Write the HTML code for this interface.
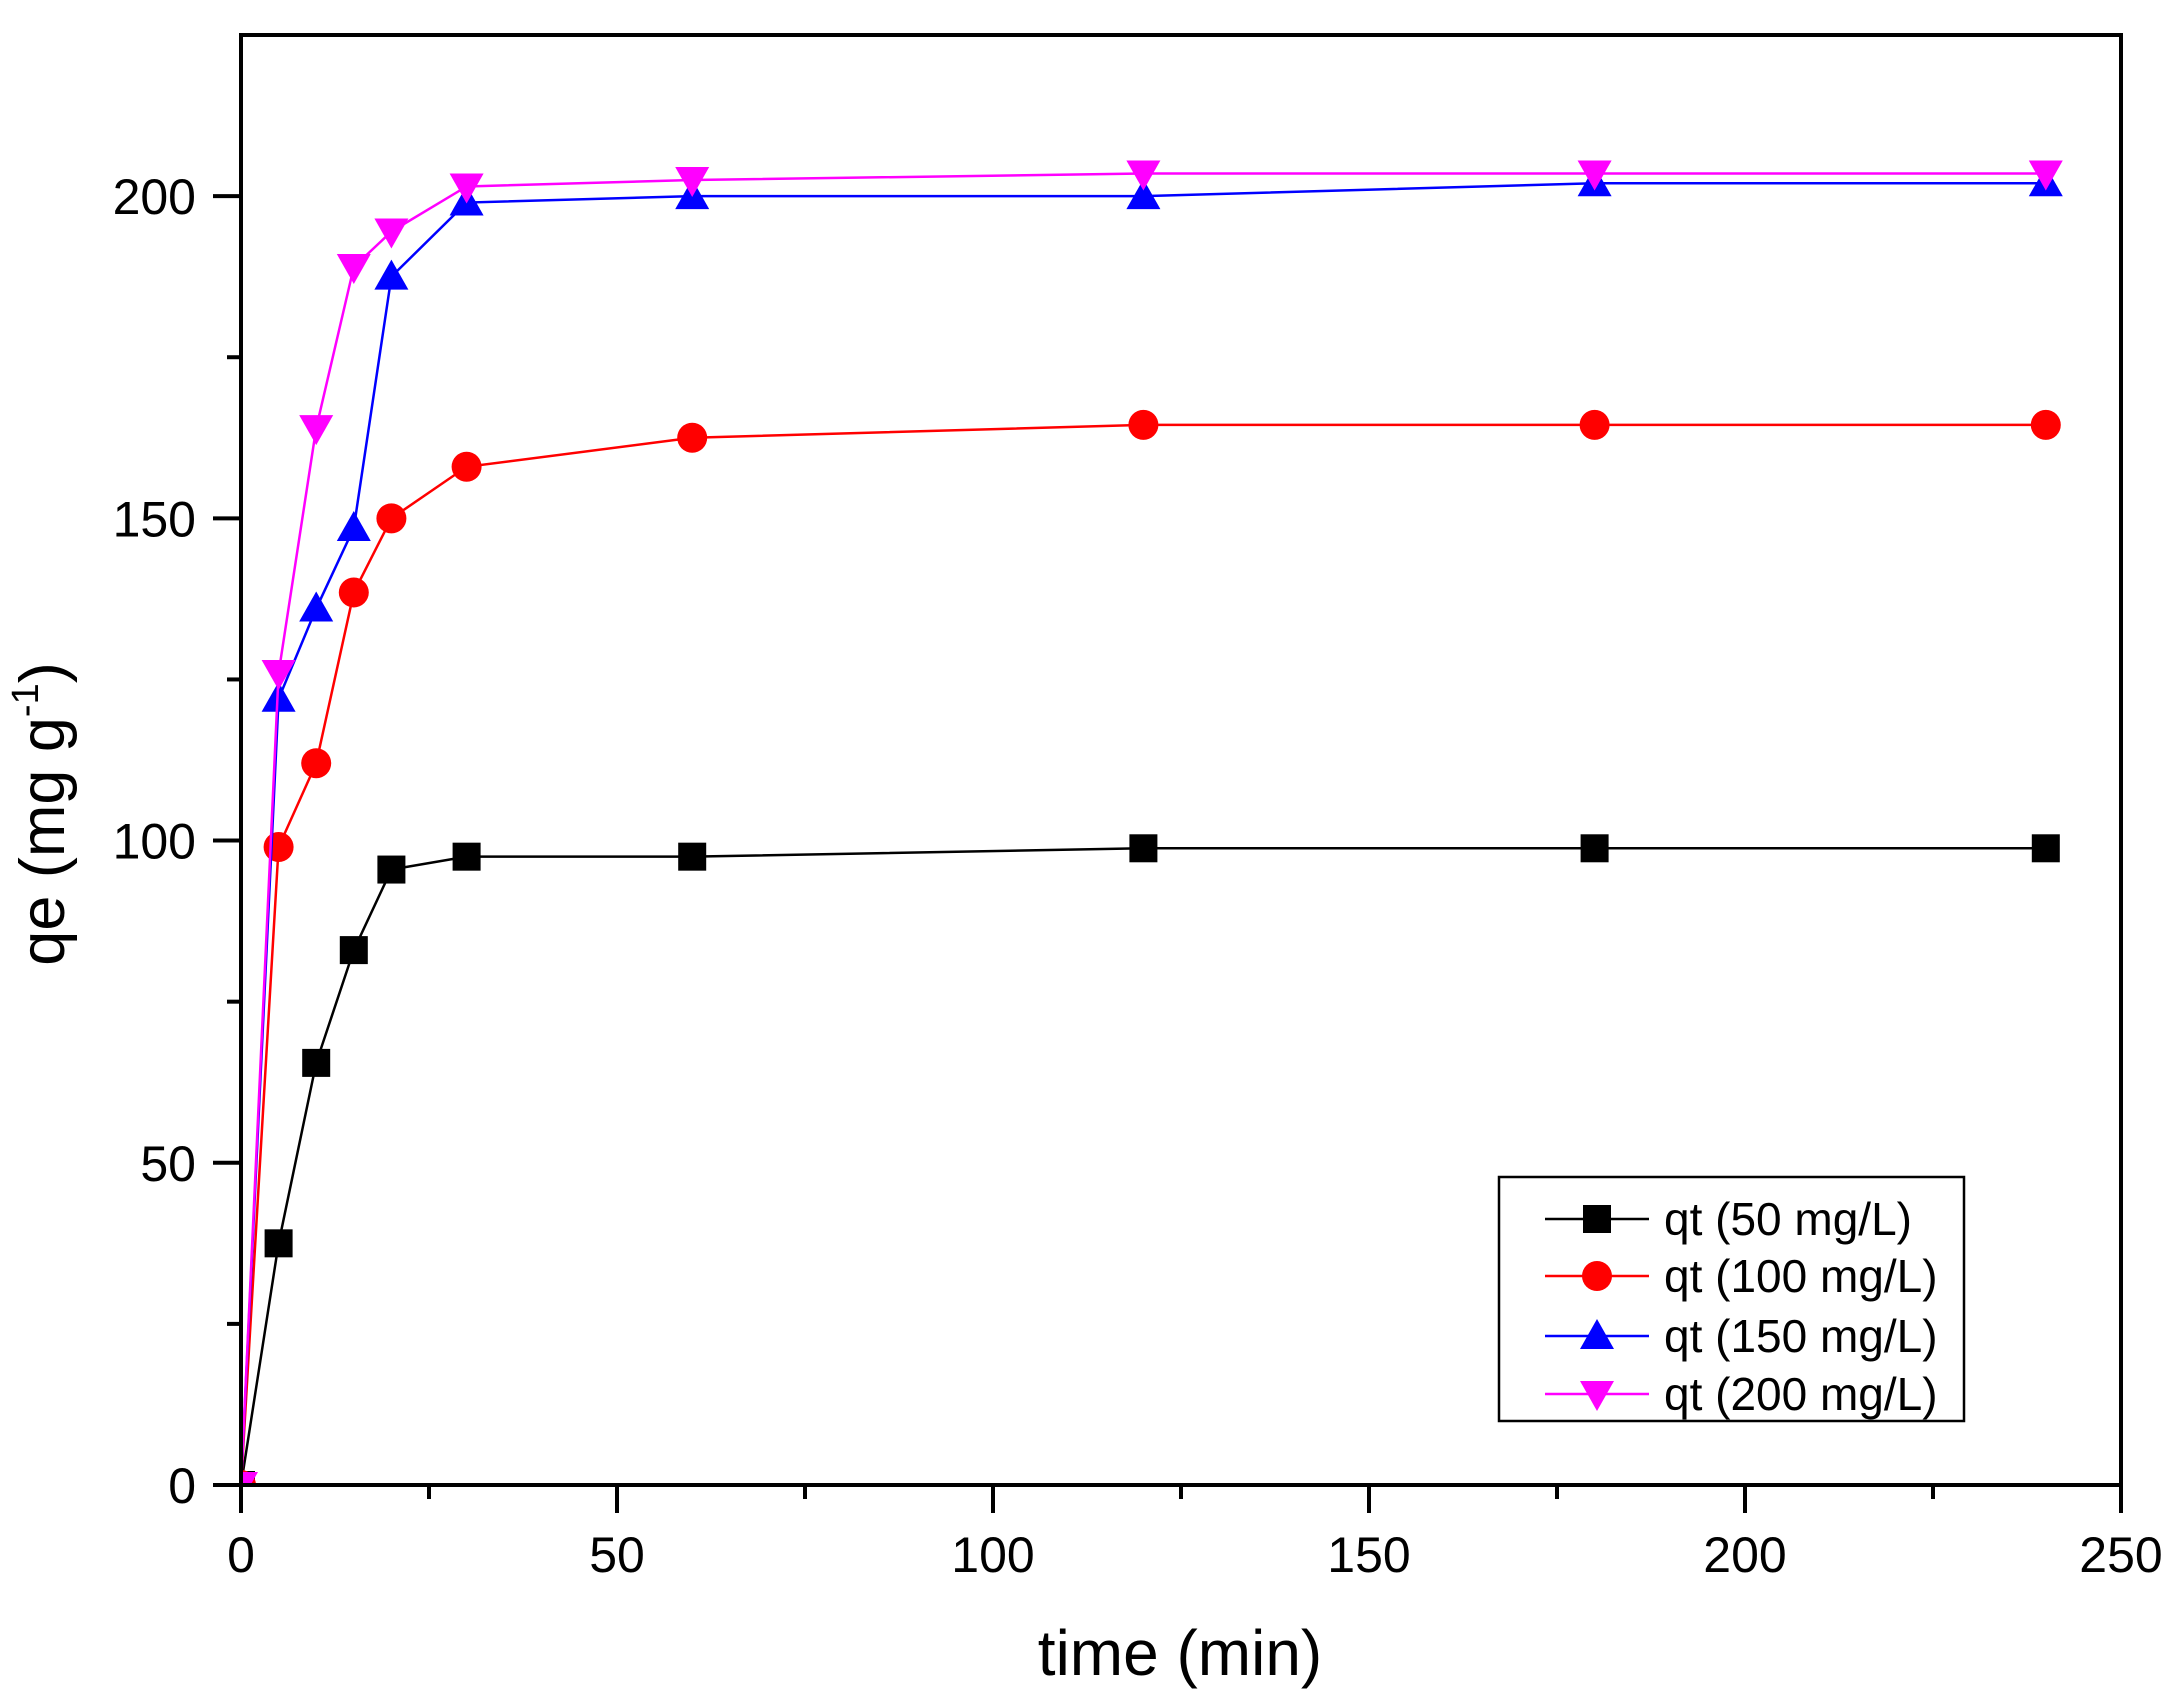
<!DOCTYPE html>
<html><head><meta charset="utf-8"><style>
body{margin:0;background:#fff;}
svg{display:block;font-family:"Liberation Sans",Arial,sans-serif;}
</style></head><body>
<svg id="chart" width="2182" height="1695" viewBox="0 0 2182 1695" xmlns="http://www.w3.org/2000/svg">
<defs><clipPath id="plotclip"><rect x="241" y="35" width="1880" height="1450"/></clipPath></defs>
<rect width="2182" height="1695" fill="#fff"/>
<g id="series" clip-path="url(#plotclip)"></g>
<g id="axes"></g>
<text x="1180" y="1675" font-size="64" text-anchor="middle">time (min)</text>
<text transform="translate(64,814) rotate(-90)" font-size="63" text-anchor="middle">qe (mg g<tspan font-size="38" dy="-26">-1</tspan><tspan dy="26">)</tspan></text>
<g id="legend"></g>
</svg>
<script>
const times=[0,5,10,15,20,30,60,120,180,240];
const q50=[0,37.5,65.5,83,95.5,97.5,97.5,98.8,98.8,98.8];
const q100=[0,99,112,138.5,150,158,162.5,164.5,164.5,164.5];
const q150=[0,122,136,148.5,187.5,199,200,200,202,202];
const q200=[0,126,164,189,194.5,201.5,202.5,203.5,203.5,203.5];
const xTicks=[0,50,100,150,200,250];
const yTicks=[0,50,100,150,200];
const labels=["qt (50 mg/L)","qt (100 mg/L)","qt (150 mg/L)","qt (200 mg/L)"];

const NS="http://www.w3.org/2000/svg";
const L=241,R=2121,T=35,B=1485;
const X=v=>L+(v/250)*(R-L);
const Y=v=>B-(v/225)*(B-T);
function mk(tag,attrs,parent){const e=document.createElementNS(NS,tag);for(const k in attrs)e.setAttribute(k,attrs[k]);parent.appendChild(e);return e;}
const axes=document.getElementById('axes'),sg=document.getElementById('series'),lg=document.getElementById('legend');

function marker(shape,color,cx,cy,parent){
  let e;
  if(shape==='square'){e=mk('rect',{x:cx-14,y:cy-14,width:28,height:28,fill:color},parent);}
  else if(shape==='circle'){e=mk('circle',{cx:cx,cy:cy,r:15,fill:color},parent);}
  else if(shape==='up'){e=mk('polygon',{points:`${cx},${cy-17} ${cx-17},${cy+13} ${cx+17},${cy+13}`,fill:color},parent);}
  else {e=mk('polygon',{points:`${cx},${cy+17} ${cx-17},${cy-13} ${cx+17},${cy-13}`,fill:color},parent);}
  return e;
}
const series=[[q50,'#000','square'],[q100,'#ff0000','circle'],[q150,'#0000ff','up'],[q200,'#ff00ff','down']];
series.forEach((s,i)=>{
  const g=mk('g',{},sg);
  
  
  const pts=times.map((t,j)=>X(t)+','+Y(s[0][j])).join(' ');
  const pl=mk('polyline',{points:pts,fill:'none',stroke:s[1],'stroke-width':2.5},g);
  
  
  times.forEach((t,j)=>{
    const m=marker(s[2],s[1],X(t),Y(s[0][j]),g);
    
    
  });
});

const fr=mk('rect',{x:L,y:T,width:R-L,height:B-T,fill:'none',stroke:'#000','stroke-width':4},axes);


xTicks.forEach(v=>{
  const tk=mk('line',{x1:X(v),x2:X(v),y1:B,y2:B+28,stroke:'#000','stroke-width':4},axes);
  
  
  const t=mk('text',{x:X(v),y:1572,'font-size':50,'text-anchor':'middle'},axes);t.textContent=v;
  
  
});
for(let v=25;v<250;v+=50){mk('line',{x1:X(v),x2:X(v),y1:B,y2:B+14,stroke:'#000','stroke-width':4},axes);}
yTicks.forEach(v=>{
  const tk=mk('line',{x1:L-28,x2:L,y1:Y(v),y2:Y(v),stroke:'#000','stroke-width':4},axes);
  
  
  const t=mk('text',{x:196,y:Y(v)+18,'font-size':50,'text-anchor':'end'},axes);t.textContent=v;
  
  
});
for(let v=25;v<225;v+=50){mk('line',{x1:L-14,x2:L,y1:Y(v),y2:Y(v),stroke:'#000','stroke-width':4},axes);}

mk('rect',{x:1499,y:1177,width:465,height:244,fill:'#fff',stroke:'#000','stroke-width':2.5},lg);
const ly=[1219,1276,1336,1394];
series.forEach((s,i)=>{
  const g=mk('g',{},lg);
  
  
  mk('line',{x1:1545,x2:1649,y1:ly[i],y2:ly[i],stroke:s[1],'stroke-width':2.5},g);
  marker(s[2],s[1],1597,ly[i],g);
  const t=mk('text',{x:1664,y:ly[i]+16,'font-size':46},g);t.textContent=labels[i];
});
</script>
</body></html>
